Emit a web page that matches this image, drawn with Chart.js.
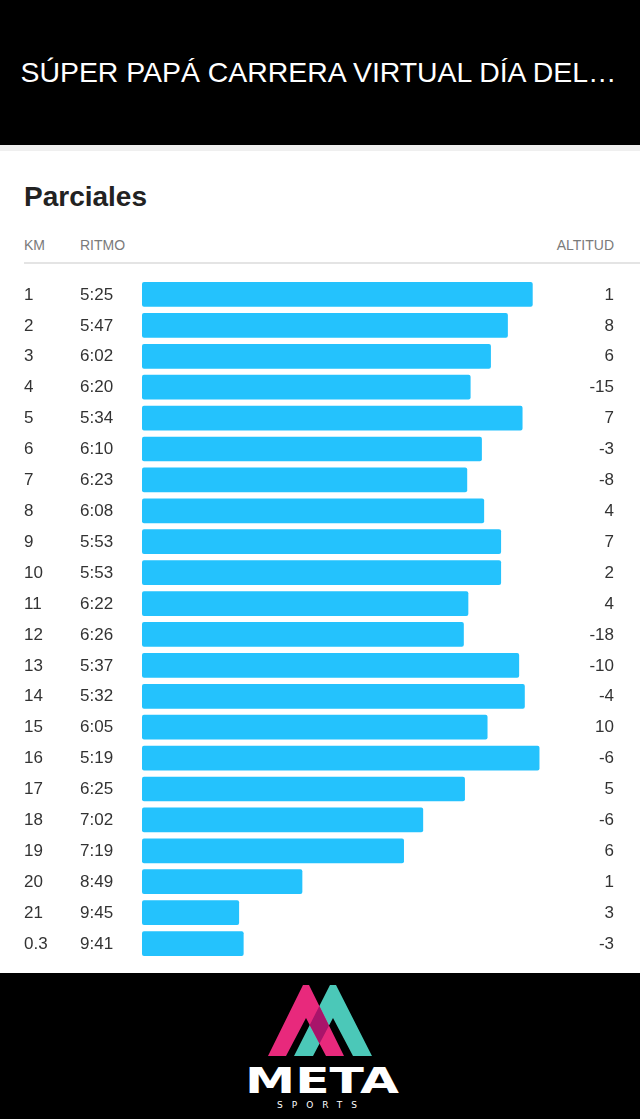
<!DOCTYPE html>
<html lang="es">
<head>
  <meta charset="UTF-8">
  <title>Parciales</title>
  <script src="https://cdn.jsdelivr.net/npm/chart.js"></script>
  <style>
    html, body { margin: 0; padding: 0; background: #fff; }
    #page { position: relative; width: 640px; height: 1119px; overflow: hidden; }
    #bg { position: absolute; left: 0; top: 0; }
    #splits { position: absolute; left: 0; top: 279px; }
  </style>
</head>
<body>
  <div id="page">
    <svg id="bg" width="640" height="1119" xmlns="http://www.w3.org/2000/svg">
      <rect x="0" y="0" width="640" height="145" fill="#000"/>
      <rect x="0" y="145" width="640" height="6" fill="#efefef"/>
      <text x="20.5" y="82" fill="#fff" font-family="Liberation Sans, Arial, sans-serif" font-size="28"
            textLength="596" lengthAdjust="spacingAndGlyphs">SÚPER PAPÁ CARRERA VIRTUAL DÍA DEL…</text>

      <text x="24" y="206" fill="#222" font-family="Liberation Sans, Arial, sans-serif" font-size="28" font-weight="bold">Parciales</text>
      <text x="24" y="250" fill="#7a7a7a" font-family="Liberation Sans, Arial, sans-serif" font-size="14">KM</text>
      <text x="80" y="250" fill="#7a7a7a" font-family="Liberation Sans, Arial, sans-serif" font-size="14">RITMO</text>
      <text x="614" y="250" fill="#7a7a7a" font-family="Liberation Sans, Arial, sans-serif" font-size="14" text-anchor="end">ALTITUD</text>
      <line x1="24" y1="263" x2="640" y2="263" stroke="#e4e4e4" stroke-width="2"/>

      <rect x="0" y="973" width="640" height="146" fill="#000"/>
      <defs>
        <clipPath id="tealClip">
          <polygon points="294,1056 330,985 336,985 372,1056 353,1056 333,1018 313,1056"/>
        </clipPath>
      </defs>
      <polygon points="294,1056 330,985 336,985 372,1056 353,1056 333,1018 313,1056" fill="#4bc8b8"/>
      <polygon points="268,1056 303,985 309,985 344,1056 326,1056 306,1018 286,1056" fill="#e8297c"/>
      <polygon points="268,1056 303,985 309,985 344,1056 326,1056 306,1018 286,1056" fill="#a8146a" clip-path="url(#tealClip)"/>
      <text x="245" y="1093" fill="#fff" font-family="DejaVu Sans, sans-serif" font-size="36" font-weight="bold"
            textLength="154" lengthAdjust="spacingAndGlyphs">META</text>
      <text x="277" y="1108" fill="#fff" font-family="DejaVu Sans, sans-serif" font-size="9"
            textLength="80" lengthAdjust="spacing">SPORTS</text>
    </svg>
    <canvas id="splits" width="640" height="680"></canvas>
  </div>

  <script>
    const kms = ['1', '2', '3', '4', '5', '6', '7', '8', '9', '10', '11',
                 '12', '13', '14', '15', '16', '17', '18', '19', '20', '21', '0.3'];
    const paces = ['5:25', '5:47', '6:02', '6:20', '5:34', '6:10', '6:23', '6:08', '5:53', '5:53', '6:22',
                   '6:26', '5:37', '5:32', '6:05', '5:19', '6:25', '7:02', '7:19', '8:49', '9:45', '9:41'];
    const altitudes = [1, 8, 6, -15, 7, -3, -8, 4, 7, 2, 4,
                       -18, -10, -4, 10, -6, 5, -6, 6, 1, 3, -3];

    // pace axis bounds (seconds per km), slow end on the left
    const SLOW_END = 671;
    const FAST_END = 253;

    const paceSeconds = paces.map(p => {
      const [m, s] = p.split(':').map(Number);
      return m * 60 + s;
    });

    // draws the KM / RITMO / ALTITUD columns on each row of the y scale
    const rowText = {
      id: 'rowText',
      afterDatasetsDraw(chart) {
        const { ctx, scales: { y } } = chart;
        ctx.save();
        ctx.font = '17px "Liberation Sans", Arial, sans-serif';
        ctx.fillStyle = '#333';
        ctx.textBaseline = 'middle';
        kms.forEach((km, i) => {
          const yy = y.getPixelForValue(i) + 0.5;
          ctx.textAlign = 'left';
          ctx.fillText(km, 24, yy);
          ctx.fillText(paces[i], 80, yy);
          ctx.textAlign = 'right';
          ctx.fillText(String(altitudes[i]), 614, yy);
        });
        ctx.restore();
      }
    };

    new Chart(document.getElementById('splits'), {
      type: 'bar',
      data: {
        labels: kms,
        datasets: [{
          label: 'Ritmo',
          data: paceSeconds.map(s => [SLOW_END, s]),
          backgroundColor: '#24c2fd',
          borderRadius: 2,
          borderSkipped: false,
          barPercentage: 0.8,
          categoryPercentage: 1
        }]
      },
      options: {
        indexAxis: 'y',
        responsive: false,
        animation: false,
        devicePixelRatio: 1,
        layout: { padding: { left: 142, right: 26, top: 0, bottom: 0 } },
        plugins: {
          legend: { display: false },
          tooltip: { enabled: false }
        },
        scales: {
          x: { type: 'linear', reverse: true, min: FAST_END, max: SLOW_END, display: false },
          y: { type: 'category', display: false }
        }
      },
      plugins: [rowText]
    });
  </script>
</body>
</html>
